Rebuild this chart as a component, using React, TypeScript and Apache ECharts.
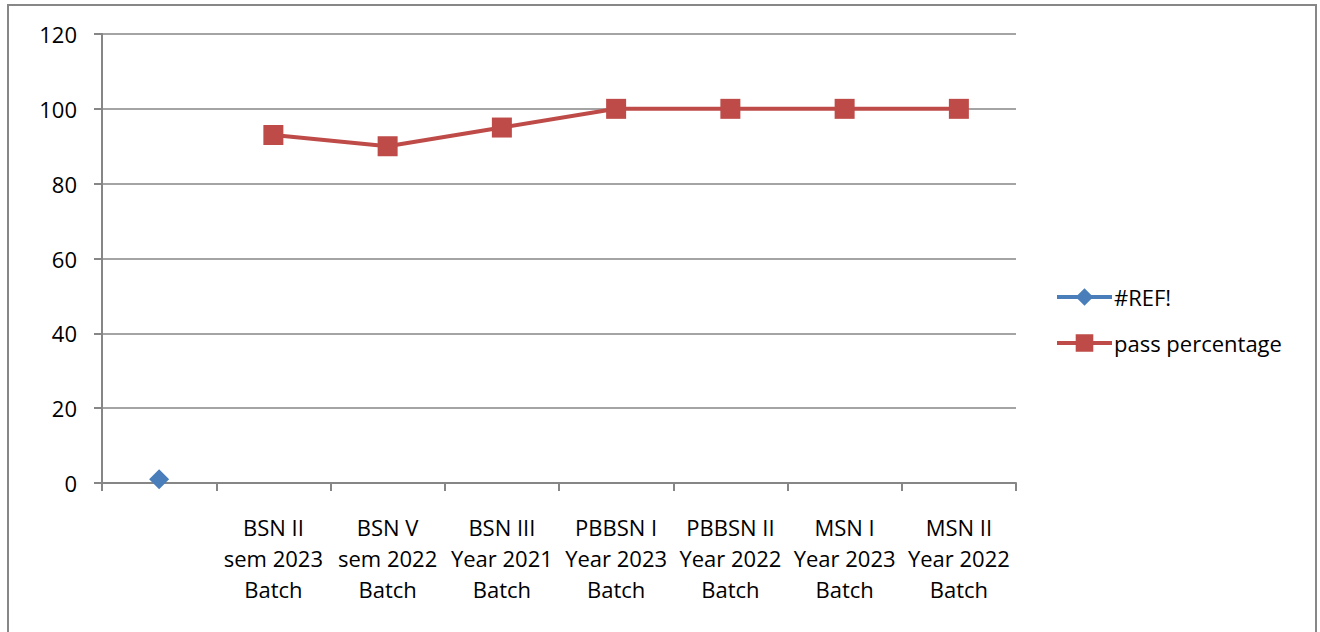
import React, { useEffect, useRef } from "react";
import * as echarts from "echarts";

const categories = [
  "",
  "BSN II\nsem 2023\nBatch",
  "BSN V\nsem 2022\nBatch",
  "BSN III\nYear 2021\nBatch",
  "PBBSN I\nYear 2023\nBatch",
  "PBBSN II\nYear 2022\nBatch",
  "MSN I\nYear 2023\nBatch",
  "MSN II\nYear 2022\nBatch",
];
const refValues = [1, null, null, null, null, null, null, null];
const passPercentage = [null, 93, 90, 95, 100, 100, 100, 100];

const FONT = "Open Sans";
const FS = 22;

export default function App() {
  const ref = useRef<HTMLDivElement>(null);
  useEffect(() => {
    if (!ref.current) return;
    const chart = echarts.init(ref.current, null, { renderer: "svg" });
    chart.setOption({
      animation: false,
      backgroundColor: "#ffffff",
      textStyle: { fontFamily: FONT },
      graphic: [
        {
          type: "rect",
          shape: { x: 8, y: 5, width: 1308, height: 640 },
          style: { fill: "none", stroke: "#878787", lineWidth: 2 },
          silent: true,
        },
      ],
      grid: { left: 102, right: 304, top: 34, bottom: 149, containLabel: false },
      legend: {
        orient: "vertical",
        left: 1050,
        top: 281,
        itemWidth: 55,
        itemHeight: 22,
        itemGap: 24,
        lineStyle: { width: 4 },
        textStyle: { fontSize: FS, color: "#000", fontFamily: FONT, padding: [0, 0, 0, -3] },
        data: ["#REF!", "pass percentage"],
      },
      xAxis: {
        type: "category",
        data: categories,
        boundaryGap: true,
        axisLine: { lineStyle: { color: "#868686", width: 2 } },
        axisTick: { show: true, length: 8, lineStyle: { color: "#868686", width: 2 } },
        axisLabel: {
          interval: 0,
          color: "#000",
          fontSize: FS,
          lineHeight: 31,
          margin: 28,
          fontFamily: FONT,
        },
      },
      yAxis: {
        type: "value",
        min: 0,
        max: 120,
        interval: 20,
        axisLine: { show: true, lineStyle: { color: "#868686", width: 2 } },
        axisTick: { show: true, length: 8, lineStyle: { color: "#868686", width: 2 } },
        splitLine: { lineStyle: { color: "#868686", width: 1.5 } },
        axisLabel: { color: "#000", fontSize: FS, margin: 25, fontFamily: FONT },
      },
      series: [
        {
          name: "#REF!",
          type: "line",
          data: refValues,
          symbol: "diamond",
          symbolSize: 20,
          color: "#4A7EBB",
          lineStyle: { width: 4, color: "#4A7EBB" },
          itemStyle: { color: "#4A7EBB" },
          connectNulls: false,
        },
        {
          name: "pass percentage",
          type: "line",
          data: passPercentage,
          symbol: "rect",
          symbolSize: 20,
          color: "#BE4B48",
          lineStyle: { width: 4, color: "#BE4B48" },
          itemStyle: { color: "#BE4B48" },
          connectNulls: false,
        },
      ],
    });
    return () => chart.dispose();
  }, []);
  return (
    <div
      ref={ref}
      style={{ position: "fixed", left: 0, top: 0, width: 1320, height: 632 }}
    />
  );
}
